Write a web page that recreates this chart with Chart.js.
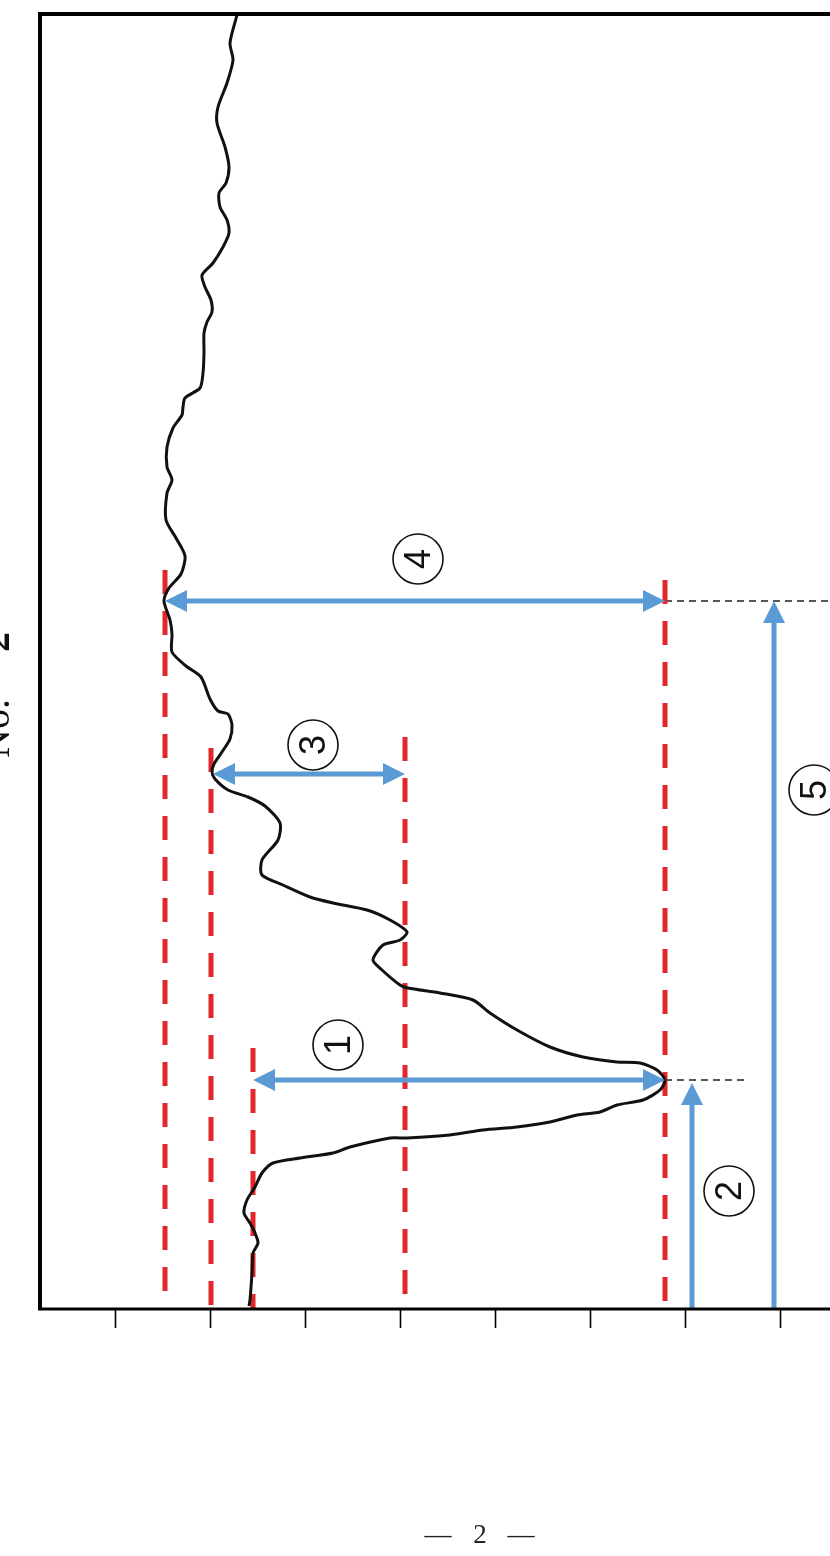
<!DOCTYPE html>
<html>
<head>
<meta charset="utf-8">
<script src="https://cdn.jsdelivr.net/npm/chart.js@4.4.1/dist/chart.umd.min.js"></script>
<style>
html, body { margin: 0; padding: 0; background: #fff; overflow: hidden; }
#wrap { position: relative; width: 830px; height: 1556px; overflow: hidden; }
#c { position: absolute; left: 0; top: 0; }
</style>
</head>
<body>
<div id="wrap"><canvas id="c" width="880" height="1556"></canvas></div>
<script>
// curve (x = distance from left axis, y = height above bottom axis)
var curveX = [197,190,193,187,178,177,185,189,186,179,180,187,189,183,173,162,165,171,172,167,
              164,164,163,160,145,143,142,133,127,127,132,127,126,136,145,141,129,124,130,132,
              132,146,161,170,178,188,192,190,182,174,172,175,188,208,225,240,238,222,222,243,
              270,293,327,350,367,360,343,333,342,360,368,400,433,450,477,510,543,577,600,617,
              625,620,603,577,560,537,510,477,443,410,367,350,310,293,260,233,222,215,207,204,
              210,215,218,213,212,210,209];
var curveY = [1294,1266,1249,1226,1202,1186,1162,1142,1126,1116,1102,1089,1076,1062,1046,1034,1022,1009,997,987,
              976,956,936,921,911,902,894,881,862,842,829,816,789,771,753,735,721,708,689,675,
              657,643,632,610,598,595,584,570,557,545,537,530,519,512,503,486,469,449,434,424,
              412,406,399,389,377,369,364,349,339,324,321,316,309,296,279,262,252,247,246,239,
              229,219,209,204,197,194,187,182,179,174,171,171,162,156,151,146,136,122,109,96,
              86,76,66,56,36,9,3];

var tickPos = [75,170,265,360,455,550,645,740];

// red dashed reference levels
var redX = [125,171,213,365,625];
var redTop = [739,561,261,572,729];
var redBottom = [0,-6,0,0,0];

// horizontal double arrows 4, 3, 1
var spanNames = ['4','3','1'];
var spanY = [708,535,229];
var spanFrom = [125,173,213];
var spanTo = [625,365,625];

// vertical arrows 2, 5
var riseNames = ['2','5'];
var riseX = [652,734];
var riseTop = [226,708];

// thin black dashed guides
var guideY = [708,229];
var guideFrom = [625,625];
var guideTo = [840,705];

// circled label positions (data units)
var labelNames = ['4','3','1','2','5'];
var labelX = [378,273,298,689,774];
var labelY = [750,564,264,118,519];

var RED = '#e3262b';
var BLUE = '#5b9bd5';

var datasets = [];
datasets.push({
    data: curveX.map(function (x, i) { return {x: x, y: curveY[i]}; }),
    showLine: true, borderColor: '#111', borderWidth: 3, tension: 0.25,
    pointRadius: 0, order: 2
});
for (var i = 0; i < redX.length; i++) {
    datasets.push({
        data: [{x: redX[i], y: redTop[i]}, {x: redX[i], y: redBottom[i]}],
        showLine: true, borderColor: RED, borderWidth: 5, borderDash: [24, 17],
        pointRadius: 0, order: 3, clip: false
    });
}
for (var i = 0; i < spanY.length; i++) {
    datasets.push({
        data: [{x: spanFrom[i] + 10, y: spanY[i]}, {x: spanTo[i] - 10, y: spanY[i]}],
        showLine: true, borderColor: BLUE, borderWidth: 5, pointRadius: 0, order: 1
    });
}
for (var i = 0; i < riseX.length; i++) {
    datasets.push({
        data: [{x: riseX[i], y: 0}, {x: riseX[i], y: riseTop[i] - 10}],
        showLine: true, borderColor: BLUE, borderWidth: 5, pointRadius: 0, order: 1
    });
}
for (var i = 0; i < guideY.length; i++) {
    datasets.push({
        data: [{x: guideFrom[i], y: guideY[i]}, {x: guideTo[i], y: guideY[i]}],
        showLine: true, borderColor: '#222', borderWidth: 1.3, borderDash: [7, 5],
        pointRadius: 0, order: 4, clip: false
    });
}

function head(c, tx, ty, dx, dy) {
    var len = 22, hw = 11;
    var bx = tx - dx * len, by = ty - dy * len;
    c.beginPath();
    c.moveTo(tx, ty);
    c.lineTo(bx - dy * hw, by + dx * hw);
    c.lineTo(bx + dy * hw, by - dx * hw);
    c.closePath();
    c.fill();
}

var pagePlugin = {
    id: 'page',
    afterDatasetsDraw: function (chart) {
        var c = chart.ctx, a = chart.chartArea;
        var xs = chart.scales.x, ys = chart.scales.y;
        c.save();
        // frame
        c.strokeStyle = '#000';
        c.lineWidth = 4;
        c.beginPath();
        c.moveTo(a.left, a.bottom + 1);
        c.lineTo(a.left, a.top);
        c.lineTo(chart.width, a.top);
        c.stroke();
        c.lineWidth = 3;
        c.beginPath();
        c.moveTo(a.left - 2, a.bottom);
        c.lineTo(chart.width, a.bottom);
        c.stroke();
        // ticks
        c.lineWidth = 1.6;
        tickPos.forEach(function (v) {
            var px = Math.round(xs.getPixelForValue(v)) + 0.5;
            c.beginPath();
            c.moveTo(px, a.bottom);
            c.lineTo(px, a.bottom + 19);
            c.stroke();
        });
        // arrow heads
        c.fillStyle = BLUE;
        for (var i = 0; i < spanY.length; i++) {
            var py = ys.getPixelForValue(spanY[i]);
            head(c, xs.getPixelForValue(spanFrom[i]), py, -1, 0);
            head(c, xs.getPixelForValue(spanTo[i]), py, 1, 0);
        }
        for (var i = 0; i < riseX.length; i++) {
            head(c, xs.getPixelForValue(riseX[i]), ys.getPixelForValue(riseTop[i]), 0, -1);
        }
        // circled numbers (page is turned, so they read upwards)
        for (var i = 0; i < labelNames.length; i++) {
            var cx = xs.getPixelForValue(labelX[i]), cy = ys.getPixelForValue(labelY[i]);
            c.save();
            c.translate(cx, cy);
            c.rotate(-Math.PI / 2);
            c.strokeStyle = '#111';
            c.lineWidth = 1.6;
            c.beginPath();
            c.arc(0, 0, 25, 0, Math.PI * 2);
            c.stroke();
            c.fillStyle = '#111';
            c.font = '36px "Liberation Sans", sans-serif';
            c.textAlign = 'center';
            c.textBaseline = 'middle';
            c.fillText(labelNames[i], 0, 2);
            c.restore();
        }
        // side caption, cut by the page edge
        c.save();
        c.translate(9, 758);
        c.rotate(-Math.PI / 2);
        c.fillStyle = '#111';
        c.textAlign = 'left';
        c.textBaseline = 'alphabetic';
        c.font = '40px "Liberation Serif", serif';
        c.fillText('No.', 0, 0);
        c.font = 'bold 40px "Liberation Serif", serif';
        c.fillText('2', 106, 0);
        c.restore();
        // page number
        c.fillStyle = '#222';
        c.font = '27px "Liberation Serif", serif';
        c.textAlign = 'center';
        c.textBaseline = 'alphabetic';
        c.fillText('\u2014', 438, 1543);
        c.fillText('2', 480, 1543);
        c.fillText('\u2014', 521, 1543);
        c.restore();
    }
};

new Chart(document.getElementById('c'), {
    type: 'scatter',
    data: { datasets: datasets },
    options: {
        responsive: false,
        animation: false,
        devicePixelRatio: 1,
        layout: { padding: { left: 40, top: 14, right: 0, bottom: 247 } },
        plugins: { legend: { display: false }, tooltip: { enabled: false } },
        scales: {
            x: { type: 'linear', min: 0, max: 840, display: false },
            y: { type: 'linear', min: 0, max: 1295, display: false }
        }
    },
    plugins: [pagePlugin]
});
</script>
</body>
</html>
